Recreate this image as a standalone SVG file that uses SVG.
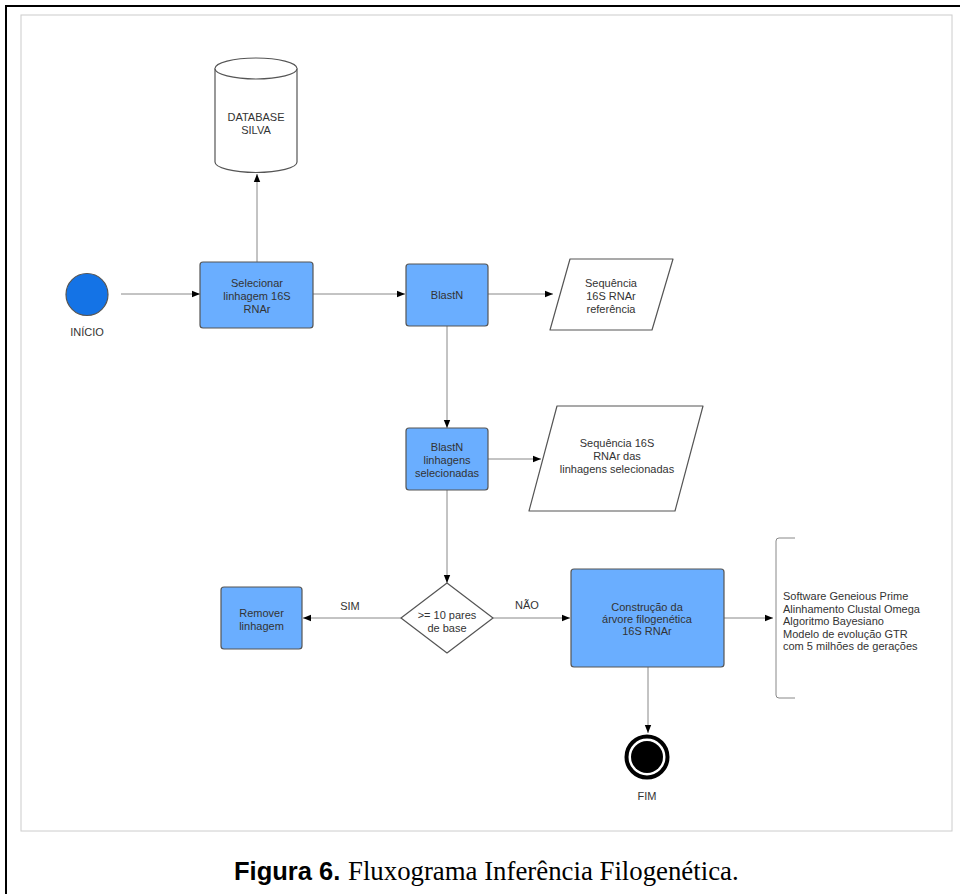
<svg xmlns="http://www.w3.org/2000/svg" width="960" height="894" viewBox="0 0 960 894">
<defs>
<marker id="ah" viewBox="0 0 10 10" refX="10" refY="5" markerWidth="8" markerHeight="8" markerUnits="userSpaceOnUse" orient="auto">
<path d="M0,1 L10,5 L0,9 Z" fill="#000"/>
</marker>
<style>
.t{font-family:"Liberation Sans",Arial,sans-serif;font-size:11px;fill:#333;text-anchor:middle}
.tl{font-family:"Liberation Sans",Arial,sans-serif;font-size:11px;fill:#333}
.box{fill:#6AAEFF;stroke:#555;stroke-width:1.2}
.shape{fill:#fff;stroke:#555;stroke-width:1.2}
.c{fill:none;stroke:#888;stroke-width:1}
</style>
</defs>
<rect width="960" height="894" fill="#fff"/>
<path d="M6,894 V6 H960" fill="none" stroke="#000" stroke-width="2"/>
<rect x="21" y="15" width="931" height="816" fill="#fff" stroke="#ccc" stroke-width="1"/>

<g id="connectors">
<path class="c" d="M257,262 V174" marker-end="url(#ah)"/>
<path class="c" d="M121,294 H200" marker-end="url(#ah)"/>
<path class="c" d="M313,294 H405" marker-end="url(#ah)"/>
<path class="c" d="M488,294 H553" marker-end="url(#ah)"/>
<path class="c" d="M447,326 V428" marker-end="url(#ah)"/>
<path class="c" d="M488,459 H541" marker-end="url(#ah)"/>
<path class="c" d="M447,490 V583" marker-end="url(#ah)"/>
<path class="c" d="M401,618 H303" marker-end="url(#ah)"/>
<path class="c" d="M493,618 H570" marker-end="url(#ah)"/>
<path class="c" d="M724,618 H773" marker-end="url(#ah)"/>
<path class="c" d="M648,667 V733" marker-end="url(#ah)"/>
<text class="t" x="350" y="610">SIM</text>
<text class="t" x="527" y="609">NÃO</text>
</g>

<g id="database">
<path class="shape" d="M215,68.5 V162 A41,10.5 0 0 0 297,162 V68.5 A41,10.5 0 0 0 215,68.5 Z"/>
<path class="shape" d="M215,68.5 A41,10.5 0 0 0 297,68.5"/>
<text class="t" x="256" y="121">DATABASE</text>
<text class="t" x="256" y="134">SILVA</text>
</g>

<g id="inicio">
<circle cx="87" cy="294.5" r="21" fill="#1473E6" stroke="#555" stroke-width="1.2"/>
<text class="t" x="87" y="336">INÍCIO</text>
</g>

<g id="selecionar">
<rect class="box" x="200" y="262" width="113" height="66" rx="3"/>
<text class="t" x="257" y="287">Selecionar</text>
<text class="t" x="257" y="300">linhagem 16S</text>
<text class="t" x="257" y="313">RNAr</text>
</g>

<g id="blastn">
<rect class="box" x="406" y="264" width="82" height="62" rx="3"/>
<text class="t" x="447" y="299">BlastN</text>
</g>

<g id="seq-ref">
<path class="shape" d="M570,259 H673 L652,330 H550 Z" stroke-linejoin="round"/>
<text class="t" x="611" y="287">Sequência</text>
<text class="t" x="611" y="300">16S RNAr</text>
<text class="t" x="611" y="313">referência</text>
</g>

<g id="blastn-sel">
<rect class="box" x="406" y="428" width="82" height="62" rx="3"/>
<text class="t" x="447" y="451">BlastN</text>
<text class="t" x="447" y="464">linhagens</text>
<text class="t" x="447" y="477">selecionadas</text>
</g>

<g id="seq-sel">
<path class="shape" d="M557,406 H703 L675,511 H529 Z" stroke-linejoin="round"/>
<text class="t" x="617" y="447">Sequência 16S</text>
<text class="t" x="617" y="460">RNAr das</text>
<text class="t" x="617" y="473">linhagens selecionadas</text>
</g>

<g id="decisao">
<path class="shape" d="M447,583 L493,618 L447,653 L401,618 Z" stroke-linejoin="round"/>
<text class="t" x="447" y="619">&gt;= 10 pares</text>
<text class="t" x="447" y="632">de base</text>
</g>

<g id="remover">
<rect class="box" x="221" y="587" width="81" height="62" rx="3"/>
<text class="t" x="261.5" y="617">Remover</text>
<text class="t" x="261.5" y="630">linhagem</text>
</g>

<g id="construcao">
<rect class="box" x="571" y="569" width="153" height="98" rx="3"/>
<text class="t" x="647" y="611">Construção da</text>
<text class="t" x="647" y="623">árvore filogenética</text>
<text class="t" x="647" y="635">16S RNAr</text>
</g>

<g id="anotacao">
<path d="M795,538 H779 Q776,538 776,541 V695 Q776,698 779,698 H795" fill="none" stroke="#888" stroke-width="1"/>
<text class="tl" x="783" y="600">Software Geneious Prime</text>
<text class="tl" x="783" y="612.5">Alinhamento Clustal Omega</text>
<text class="tl" x="783" y="625">Algoritmo Bayesiano</text>
<text class="tl" x="783" y="637.5">Modelo de evolução GTR</text>
<text class="tl" x="783" y="650">com 5 milhões de gerações</text>
</g>

<g id="fim">
<circle cx="647" cy="757" r="20.5" fill="#fff" stroke="#000" stroke-width="4"/>
<circle cx="647" cy="757" r="16" fill="#000"/>
<text class="t" x="647" y="800">FIM</text>
</g>

<g id="caption">
<text x="234" y="880" style="font-family:'Liberation Sans',Arial,sans-serif;font-size:25.5px;font-weight:bold;fill:#000">Figura 6.</text>
<text x="348" y="880" style="font-family:'Liberation Serif','Times New Roman',serif;font-size:26.8px;fill:#000">Fluxograma Inferência Filogenética.</text>
</g>
</svg>
